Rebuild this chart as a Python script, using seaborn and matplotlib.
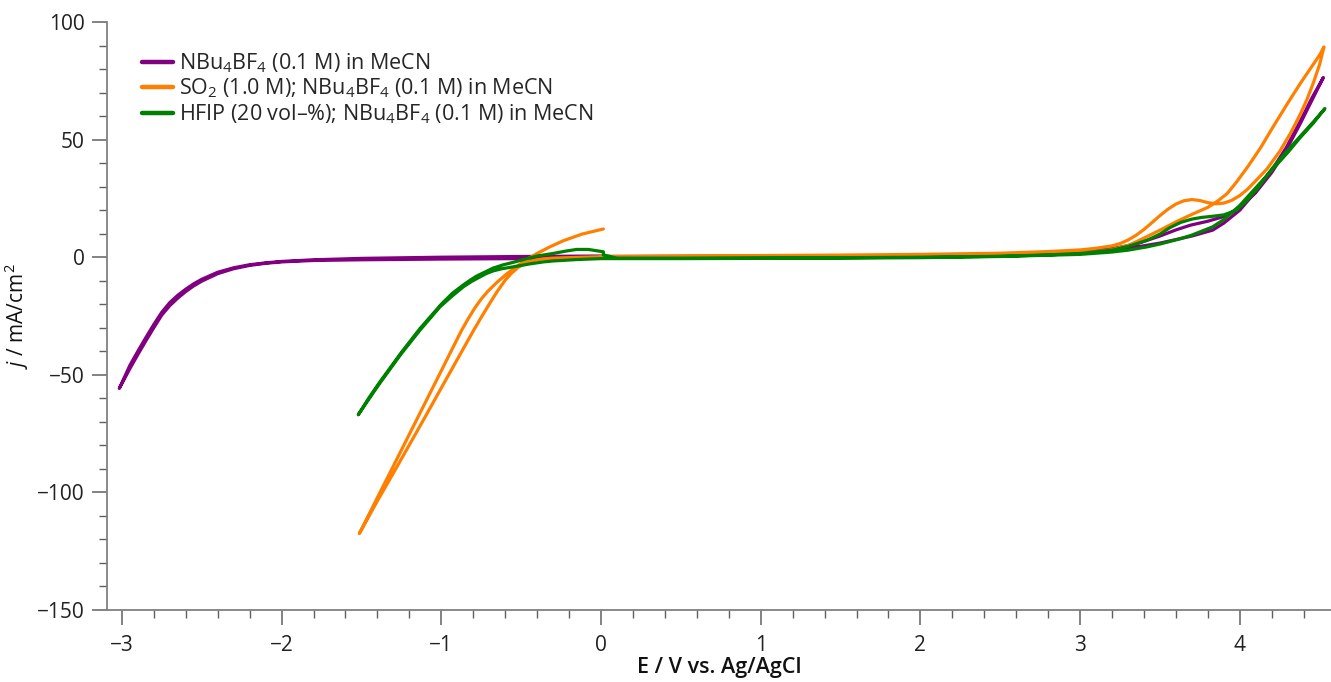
import numpy as np
import pandas as pd
import matplotlib
matplotlib.use("Agg")
import matplotlib.pyplot as plt
from matplotlib.ticker import MultipleLocator
import seaborn as sns

# ---------------- data ----------------
labels = [
    "NBu$_4$BF$_4$ (0.1 M) in MeCN",
    "SO$_2$ (1.0 M); NBu$_4$BF$_4$ (0.1 M) in MeCN",
    "HFIP (20 vol–%); NBu$_4$BF$_4$ (0.1 M) in MeCN",
]
colors = ["#800080", "#FF8000", "#008000"]

# NBu4BF4
purple_fwd_E = [0.0, 0.5, 1.0, 1.5, 2.0, 2.5, 2.8, 3.0, 3.2, 3.35, 3.5, 3.6, 3.69, 3.8, 3.9, 4.0, 4.1, 4.2, 4.29, 4.38, 4.45, 4.523]
purple_fwd_j = [0.3, 0.4, 0.5, 0.6, 0.8, 1.1, 1.6, 2.3, 3.6, 5.6, 9.0, 11.6, 13.6, 15.3, 17.3, 21.0, 27.5, 36.0, 45.5, 57.0, 66.5, 76.4]
purple_rev_E = [4.45, 4.38, 4.29, 4.2, 4.1, 4.0, 3.9, 3.83, 3.7, 3.6, 3.5, 3.35, 3.2, 3.0, 2.8, 2.5, 2.0, 1.5, 1.0, 0.5, 0.0,
                -0.5, -1.0, -1.5, -1.8, -2.0, -2.1, -2.2, -2.3, -2.4, -2.5, -2.55, -2.6, -2.65, -2.7, -2.75, -2.8,
                -2.85, -2.9, -2.95, -3.016]
purple_rev_j = [67.5, 58.0, 46.5, 37.0, 28.0, 20.0, 14.5, 11.5, 9.0, 7.5, 6.0, 4.3, 2.9, 1.7, 1.1, 0.6, 0.3, 0.1, 0.0, -0.2, -0.4,
                -0.6, -0.8, -1.1, -1.4, -2.0, -2.6, -3.5, -4.9, -7.0, -10.2, -12.2, -14.6, -17.4, -20.6, -24.6, -30.0,
                -35.6, -41.4, -47.4, -55.8]
purple_ret_E = [-2.95, -2.9, -2.85, -2.8, -2.75, -2.7, -2.65, -2.6, -2.55, -2.5, -2.4, -2.3, -2.2, -2.1, -2.0, -1.8, -1.5,
                -1.0, -0.5, 0.0]
purple_ret_j = [-46.0, -40.0, -34.2, -28.6, -23.4, -19.3, -16.2, -13.6, -11.3, -9.4, -6.4, -4.5, -3.2, -2.4, -1.8, -1.1, -0.5,
                0.0, 0.3, 0.5]

# SO2 + NBu4BF4
orange_fwd_E = [0.0, 0.5, 1.0, 1.5, 2.0, 2.5, 2.8, 3.0, 3.1, 3.2, 3.25, 3.3, 3.35, 3.4, 3.45, 3.5, 3.55, 3.6, 3.65, 3.7,
                3.75, 3.8, 3.85, 3.9, 3.95, 4.0, 4.05, 4.1, 4.17, 4.25, 4.32, 4.38, 4.42, 4.46, 4.5, 4.527]
orange_fwd_j = [0.3, 0.5, 0.7, 0.9, 1.2, 1.7, 2.4, 3.1, 3.8, 4.8, 5.8, 7.3, 9.3, 11.8, 14.7, 17.7, 20.4, 22.6, 24.0, 24.5,
                24.1, 23.2, 22.7, 23.0, 24.2, 26.2, 29.0, 32.5, 37.5, 45.0, 53.0, 61.0, 67.0, 74.0, 82.0, 89.4]
orange_rev_E = [4.5, 4.45, 4.38, 4.3, 4.2, 4.13, 4.05, 3.98, 3.92, 3.86, 3.8, 3.7, 3.6, 3.5, 3.42, 3.35, 3.3, 3.2, 3.1,
                3.0, 2.8, 2.5, 2.0, 1.5, 1.0, 0.5, 0.0, -0.1, -0.2, -0.3, -0.36, -0.4, -0.44, -0.48, -0.52, -0.56, -0.6,
                -0.65, -0.7, -0.75, -0.8, -0.9, -1.0, -1.1, -1.2, -1.3, -1.4, -1.513]
orange_rev_j = [86.0, 81.0, 74.0, 65.5, 54.5, 46.5, 38.5, 32.0, 27.0, 23.8, 21.2, 18.2, 15.0, 11.5, 8.8, 6.5, 5.0, 3.2, 2.3,
                1.8, 1.4, 1.0, 0.7, 0.5, 0.4, 0.3, 0.2, 0.0, -0.2, -0.4, -0.7, -1.1, -1.7, -2.8, -4.4, -6.8, -9.8,
                -14.6, -20.0, -25.6, -31.4, -43.5, -55.6, -67.8, -79.8, -91.8, -103.6, -117.5]
orange_ret_E = [-1.45, -1.4, -1.3, -1.2, -1.1, -1.0, -0.93, -0.872, -0.83, -0.79, -0.75, -0.71, -0.653, -0.59, -0.53,
                -0.46, -0.4, -0.32, -0.236, -0.12, 0.015]
orange_ret_j = [-109.0, -102.2, -88.8, -75.3, -61.8, -48.3, -38.8, -31.0, -26.0, -21.6, -17.8, -14.6, -10.8, -7.1, -4.0,
                -0.8, 1.6, 4.4, 7.0, 9.8, 12.0]

# HFIP + NBu4BF4
green_fwd_E = [0.015, 0.1, 0.5, 1.0, 1.5, 2.0, 2.5, 2.8, 3.0, 3.2, 3.3, 3.42, 3.5, 3.56, 3.63, 3.7, 3.76, 3.83, 3.9, 3.98,
               4.05, 4.12, 4.2, 4.3, 4.38, 4.46, 4.533]
green_fwd_j = [1.0, -0.4, -0.4, -0.3, -0.2, 0.0, 0.4, 1.0, 1.6, 3.0, 4.6, 7.2, 9.8, 12.5, 14.8, 16.2, 16.9, 17.4, 18.0, 20.0,
               24.5, 30.0, 37.5, 45.5, 51.5, 57.5, 63.2]
green_rev_E = [4.46, 4.38, 4.3, 4.2, 4.1, 4.0, 3.9, 3.83, 3.7, 3.63, 3.5, 3.42, 3.3, 3.2, 3.0, 2.5, 2.0, 1.5, 1.0, 0.5, 0.0,
               -0.15, -0.3, -0.361, -0.45, -0.549, -0.62, -0.674, -0.72, -0.758, -0.81, -0.862, -0.93, -1.008, -1.07,
               -1.133, -1.25, -1.384, -1.45, -1.52]
green_rev_j = [57.0, 51.0, 44.5, 37.0, 29.5, 22.0, 16.0, 12.9, 9.4, 7.9, 5.6, 4.4, 3.0, 2.2, 1.2, 0.3, -0.2, -0.4, -0.5, -0.6, -0.6,
               -1.0, -1.6, -2.0, -2.9, -4.1, -4.9, -5.8, -7.0, -8.4, -10.3, -12.6, -16.4, -21.1, -26.0,
               -31.0, -41.0, -53.5, -60.0, -67.0]
green_ret_E = [-1.45, -1.384, -1.25, -1.133, -1.0, -0.93, -0.862, -0.82, -0.778, -0.72, -0.674, -0.61, -0.55, -0.465,
               -0.4, -0.299, -0.22, -0.152, -0.08, 0.015, 0.015]
green_ret_j = [-59.5, -53.0, -40.5, -30.3, -20.0, -15.3, -11.8, -9.8, -8.0, -6.1, -4.6, -3.2, -2.2, -0.6,
               0.5, 1.6, 2.6, 3.3, 3.3, 2.3, 1.0]

series = [
    (labels[0], purple_fwd_E + purple_rev_E + purple_ret_E, purple_fwd_j + purple_rev_j + purple_ret_j),
    (labels[1], orange_fwd_E + orange_rev_E + orange_ret_E, orange_fwd_j + orange_rev_j + orange_ret_j),
    (labels[2], green_fwd_E + green_rev_E + green_ret_E, green_fwd_j + green_rev_j + green_ret_j),
]
frames = []
for name, E, j in series:
    frames.append(pd.DataFrame({"E": E, "j": j, "series": name, "idx": np.arange(len(E))}))
df = pd.concat(frames, ignore_index=True)

# ---------------- style ----------------
sns.set_theme(style="ticks")
plt.rcParams["font.family"] = ["Open Sans", "DejaVu Sans"]
plt.rcParams["mathtext.fontset"] = "custom"
plt.rcParams["mathtext.rm"] = "Open Sans"
plt.rcParams["mathtext.it"] = "Open Sans:italic"
plt.rcParams["mathtext.bf"] = "Open Sans:bold"

W, H = 1331, 682
fig = plt.figure(figsize=(W / 100, H / 100), dpi=100)
ax = fig.add_axes([107 / W, (H - 610) / H, (W - 107) / W, (610 - 22) / H])

sns.lineplot(data=df, x="E", y="j", hue="series", hue_order=labels, palette=colors,
             sort=False, estimator=None, units="series", linewidth=2.3, ax=ax)

ax.set_xlim(-3.093, 4.571)
ax.set_ylim(-150, 100)
ax.xaxis.set_major_locator(MultipleLocator(1))
ax.xaxis.set_minor_locator(MultipleLocator(0.2))
ax.yaxis.set_major_locator(MultipleLocator(50))
ax.yaxis.set_minor_locator(MultipleLocator(10))

for s in ["top", "right"]:
    ax.spines[s].set_visible(False)
for s in ["left", "bottom"]:
    ax.spines[s].set_color("#808080")
    ax.spines[s].set_linewidth(1.3)

ax.tick_params(which="major", length=11, width=1.1, color="#606060", labelsize=15, labelcolor="#222222", pad=5)
ax.tick_params(which="minor", length=6, width=1.0, color="#606060")
ax.tick_params(axis="x", which="major", pad=7)

ax.set_xlabel("E / V vs. Ag/AgCl", fontsize=15.5, fontweight="semibold", labelpad=1, color="#111111")
ax.set_ylabel("$j$ / mA/cm$^2$", fontsize=15, labelpad=4, color="#111111")

leg = ax.legend(loc="upper left", bbox_to_anchor=(0.029, 0.95), frameon=False, fontsize=15.5,
                handlelength=1.4, handletextpad=0.3, labelspacing=0.08, borderaxespad=0, borderpad=0)
for line in leg.get_lines():
    line.set_linewidth(3.2)

fig.savefig("out.png", dpi=100)
